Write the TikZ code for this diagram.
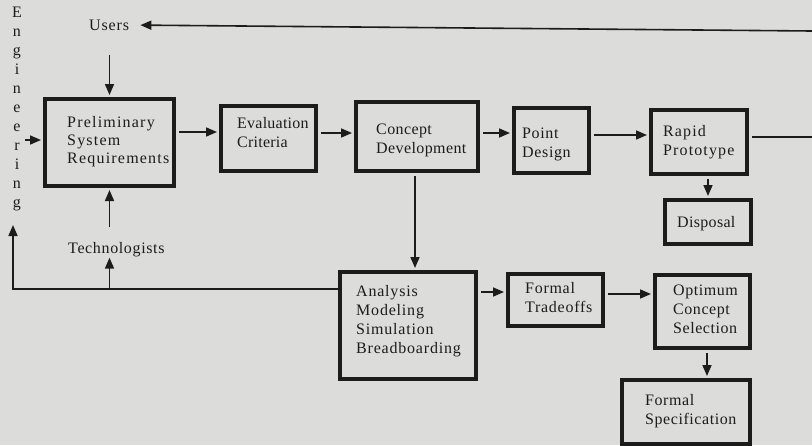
\documentclass[tikz,border=0pt]{standalone}
\usepackage{fontspec}
\setmainfont{Liberation Serif}
\usetikzlibrary{arrows.meta}
\definecolor{paper}{RGB}{220,220,218}
\definecolor{ink}{RGB}{28,28,28}
\begin{document}
\begin{tikzpicture}[x=1pt,y=-1pt,
  stage/.style 2 args={draw=ink,line width=4pt,minimum width=#1,minimum height=#2,inner sep=0pt},
  txt/.style={inner sep=0pt,align=left,anchor=base west,text=ink,
    font=\fontsize{16}{19}\selectfont\addfontfeature{LetterSpace=#1}},
  txt/.default=4,
  flow/.style={draw=ink,line width=1.6pt,-{Triangle[length=11pt,width=9pt]},shorten <=3pt,shorten >=2pt},
  link/.style={draw=ink,line width=1.6pt}]
% paper
\fill[paper] (0,0) rectangle (812,445);
\useasboundingbox (0,0) rectangle (812,445);

% process boxes
\node[stage={129pt}{87pt}] (psr) at (109.5,142.5) {};
\node[stage={95pt}{65pt}] (eval) at (268.5,138.5) {};
\node[stage={122pt}{69pt}] (cdev) at (417,136.5) {};
\node[stage={75pt}{65pt}] (pdes) at (551.5,140.5) {};
\node[stage={96pt}{64pt}] (rapid) at (699,142) {};
\node[stage={86pt}{44pt}] (disp) at (708,222) {};
\node[stage={136pt}{107pt}] (amsb) at (408,325.5) {};
\node[stage={95pt}{52pt}] (ftrade) at (555.5,300) {};
\node[stage={95pt}{73pt}] (optim) at (702.5,311.5) {};
\node[stage={128pt}{64pt}] (fspec) at (686,412) {};

% box texts (positioned by the baseline of their last line)
\node[txt=7.5,font=\fontsize{16}{18}\selectfont\addfontfeature{LetterSpace=7.5}] (psrt) at (67,163) {Preliminary\\System\\Requirements};
\node[txt=1.5] (evalt) at (237,147) {Evaluation\\Criteria};
\node[txt=2.5] (cdevt) at (376,153) {Concept\\Development};
\node[txt=4] (pdest) at (522,157) {Point\\Design};
\node[txt=7] (rapidt) at (663,155) {Rapid\\Prototype};
\node[txt=2] (dispt) at (677,227) {Disposal};
\node[txt=5] (amsbt) at (356,353) {Analysis\\Modeling\\Simulation\\Breadboarding};
\node[txt=4.5] (ftradet) at (525,312) {Formal\\Tradeoffs};
\node[txt=3.5] (optimt) at (673,333) {Optimum\\Concept\\Selection};
\node[txt=3.5] (fspect) at (645,424) {Formal\\Specification};

% outside parties
\node[txt=5.5] (users) at (89,30) {Users};
\node[txt=4] (techs) at (68,253) {Technologists};
\node[txt=0,align=center,anchor=base] (eng) at (17,207) {E\\n\\g\\i\\n\\e\\e\\r\\i\\n\\g};

% main flow
\draw[flow] (psr.east |- 0,132) -- (eval.west |- 0,132);
\draw[flow] (eval.east |- 0,133) -- (cdev.west |- 0,133);
\draw[flow] (cdev.east |- 0,133) -- (pdes.west |- 0,133);
\draw[flow] (pdes.east |- 0,135) -- (rapid.west |- 0,135);
\draw[flow] (rapid.south -| 708,0) -- (disp.north -| 708,0);
\draw[flow] (cdev.south -| 415,0) -- (amsb.north -| 415,0);
\draw[flow] (amsb.east |- 0,292) -- (ftrade.west |- 0,292);
\draw[flow] (ftrade.east |- 0,294) -- (optim.west |- 0,294);
\draw[flow] (optim.south -| 707,0) -- (fspec.north -| 707,0);

% feedback to users
\coordinate (outR) at (812,137);
\coordinate (inR) at (812,31);
\draw[link,shorten <=3pt] (rapid.east |- outR) -- (outR);
\draw[flow,shorten <=0pt,shorten >=11pt] (inR) -- (users);

% inputs to requirements
\draw[flow,shorten <=25pt] (users.south -| psr.north) -- (psr.north);
\draw[flow,shorten <=15pt] (techs.north -| psr.south) -- (psr.south);
\draw[flow] (eng.east |- 0,140) -- (psr.west |- 0,140);

% analysis feedback
\coordinate (bend) at (13,289);
\coordinate (engin) at (13,225);
\coordinate (tap) at (109.5,289);
\draw[flow,shorten <=0pt,shorten >=0pt] (amsb.west |- bend) -- (bend) -- (engin);
\draw[flow,shorten <=0pt,shorten >=1pt] (tap) -- (techs.south -| tap);
\end{tikzpicture}
\end{document}
